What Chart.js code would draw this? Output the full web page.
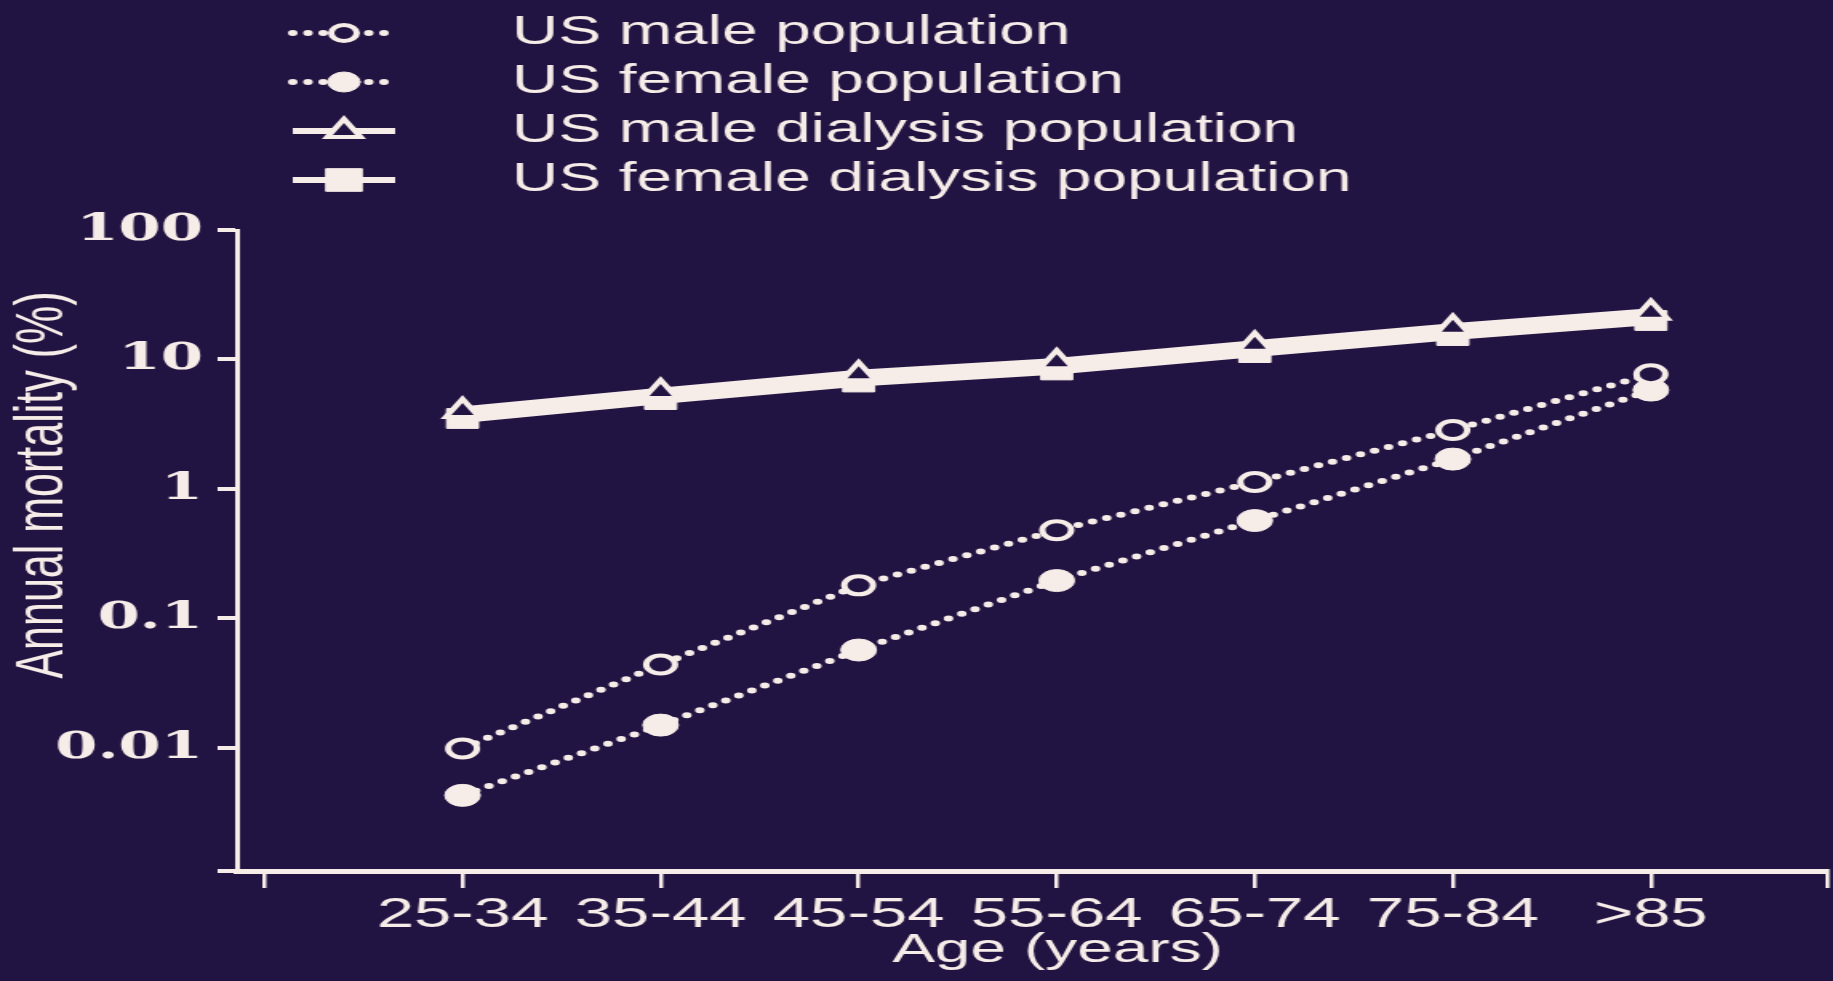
<!DOCTYPE html>
<html>
<head>
<meta charset="utf-8">
<title>Annual mortality by age</title>
<script src="https://cdn.jsdelivr.net/npm/chart.js@4.4.1/dist/chart.umd.min.js"></script>
<style>
	html, body { margin: 0; padding: 0; background: #221442; overflow: hidden; }
	/* the scan is stretched sideways, so the chart is drawn narrow and stretched too */
	#wrap { width: 1146px; height: 981px; transform: scaleX(1.6); transform-origin: 0 0; }
	#mortalityChart { width: 1146px; height: 981px; }
</style>
</head>
<body>
<div id="wrap"><canvas id="mortalityChart" width="1146" height="981"></canvas></div>
<script>
// age groups along the x axis
const ageGroups = ["25-34", "35-44", "45-54", "55-64", "65-74", "75-84", ">85"];

// annual mortality, %
const maleGeneral = [0.0099, 0.044, 0.18, 0.48, 1.13, 2.85, 7.7];
const femaleGeneral = [0.0043, 0.015, 0.057, 0.196, 0.57, 1.7, 5.8];
const maleDialysis = [4.0, 5.6, 7.7, 9.5, 13.0, 17.6, 23.0];
const femaleDialysis = [3.5, 4.9, 6.7, 8.3, 11.3, 15.3, 20.0];

const seriesNames = [
	"US male population",
	"US female population",
	"US male dialysis population",
	"US female dialysis population",
];

// y axis labels
const yTickValues = [0.01, 0.1, 1, 10, 100];
const yTickLabels = ["0.01", "0.1", "1", "10", "100"];
const yMin = 0.00112;
const yMax = 100;
const xMin = -1.14;
const xMax = 6.89;

const INK = "#f6ece8";
const BG = "#221442";
const SANS = "'Liberation Sans', Arial, sans-serif";

const toPoints = (arr) => arr.map((v, i) => ({ x: i, y: v }));

// legend drawn by hand: line sample + marker + text, rows under each other
const legendPlugin = {
	id: "stackedLegend",
	afterDraw(chart) {
		const ctx = chart.ctx;
		const sampleX = 215;
		const sampleHalf = 32;
		const textX = 320;
		chart.data.datasets.forEach((ds, i) => {
			const y = 33 + i * 49;
			ctx.save();
			ctx.strokeStyle = ds.borderColor;
			ctx.lineWidth = ds.legendLineWidth;
			ctx.lineCap = ds.borderCapStyle || "butt";
			ctx.setLineDash(ds.borderDash || []);
			ctx.beginPath();
			ctx.moveTo(sampleX - sampleHalf, y);
			ctx.lineTo(sampleX + sampleHalf, y);
			ctx.stroke();
			ctx.setLineDash([]);
			ctx.fillStyle = ds.pointBackgroundColor;
			ctx.strokeStyle = ds.pointBorderColor;
			ctx.lineWidth = ds.pointBorderWidth;
			Chart.helpers.drawPoint(ctx, {
				pointStyle: ds.pointStyle,
				radius: ds.legendRadius,
				borderWidth: ds.pointBorderWidth,
				rotation: 0,
			}, sampleX, y);
			ctx.fillStyle = INK;
			ctx.font = "40px " + SANS;
			ctx.textAlign = "left";
			ctx.textBaseline = "middle";
			ctx.fillText(ds.label, textX, y);
			ctx.restore();
		});
	},
};

// axis titles, placed where the scan has them
const titlesPlugin = {
	id: "axisTitles",
	afterDraw(chart) {
		const ctx = chart.ctx;
		ctx.save();
		ctx.fillStyle = INK;
		ctx.textAlign = "center";
		ctx.textBaseline = "middle";
		ctx.font = "40px " + SANS;
		ctx.fillText("Age (years)", 661, 951);
		ctx.translate(27.5, 485);
		ctx.rotate(-Math.PI / 2);
		ctx.font = "43px " + SANS;
		ctx.fillText("Annual mortality (%)", 0, 0);
		ctx.restore();
	},
};

const dottedLine = {
	borderColor: INK,
	borderWidth: 6,
	legendLineWidth: 6,
	borderDash: [0, 9.5],
	borderCapStyle: "round",
	pointStyle: "circle",
	pointBorderColor: INK,
	fill: false,
	tension: 0,
};

const solidLine = {
	borderColor: INK,
	borderWidth: 9,
	legendLineWidth: 6,
	borderCapStyle: "butt",
	pointBorderColor: INK,
	fill: false,
	tension: 0,
};

const data = {
	datasets: [
		{
			...dottedLine,
			label: seriesNames[0],
			data: toPoints(maleGeneral),
			pointRadius: 9,
			legendRadius: 8,
			pointBorderWidth: 4,
			pointBackgroundColor: BG,
		},
		{
			...dottedLine,
			label: seriesNames[1],
			data: toPoints(femaleGeneral),
			pointRadius: 11,
			legendRadius: 10,
			pointBorderWidth: 1,
			pointBackgroundColor: INK,
		},
		{
			...solidLine,
			label: seriesNames[2],
			data: toPoints(maleDialysis),
			pointStyle: "triangle",
			pointRadius: 12,
			legendRadius: 12,
			pointBorderWidth: 4,
			pointBackgroundColor: BG,
		},
		{
			...solidLine,
			label: seriesNames[3],
			data: toPoints(femaleDialysis),
			pointStyle: "rect",
			pointRadius: 14,
			legendRadius: 16,
			pointBorderWidth: 1,
			pointBackgroundColor: INK,
		},
	],
};

const config = {
	type: "line",
	data: data,
	options: {
		responsive: false,
		animation: false,
		devicePixelRatio: 1,
		layout: { autoPadding: false, padding: { top: 230, right: 4, left: 0, bottom: 0 } },
		plugins: {
			legend: { display: false },
			tooltip: { enabled: false },
		},
		scales: {
			x: {
				type: "linear",
				min: xMin,
				max: xMax,
				afterBuildTicks: (scale) => {
					scale.ticks = [-1, ...ageGroups.map((_, i) => i), xMax].map((v) => ({ value: v }));
				},
				afterFit: (scale) => {
					scale.height = 110;
				},
				ticks: {
					color: INK,
					font: { family: SANS, size: 42 },
					padding: 2,
					autoSkip: false,
					minRotation: 0,
					maxRotation: 0,
					callback: (value) => ageGroups[value] ?? "",
				},
				grid: {
					display: true,
					drawOnChartArea: false,
					drawTicks: true,
					tickLength: 17,
					color: INK,
					lineWidth: 2.5,
				},
				border: { display: true, color: INK, width: 5 },
			},
			y: {
				type: "logarithmic",
				min: yMin,
				max: yMax,
				afterBuildTicks: (scale) => {
					scale.ticks = [yMin, ...yTickValues].map((v) => ({ value: v }));
				},
				afterFit: (scale) => {
					scale.width = 148;
				},
				ticks: {
					color: INK,
					font: { family: "'DejaVu Serif', serif", size: 38, weight: "bold" },
					padding: 9,
					callback: (value) => {
						const k = yTickValues.indexOf(value);
						return k < 0 ? "" : yTickLabels[k];
					},
				},
				grid: {
					display: true,
					drawOnChartArea: false,
					drawTicks: true,
					tickLength: 12,
					color: INK,
					lineWidth: 4,
				},
				border: { display: true, color: INK, width: 3 },
			},
		},
	},
	plugins: [legendPlugin, titlesPlugin],
};

const mortalityChart = new Chart(document.getElementById("mortalityChart"), config);
</script>
</body>
</html>
